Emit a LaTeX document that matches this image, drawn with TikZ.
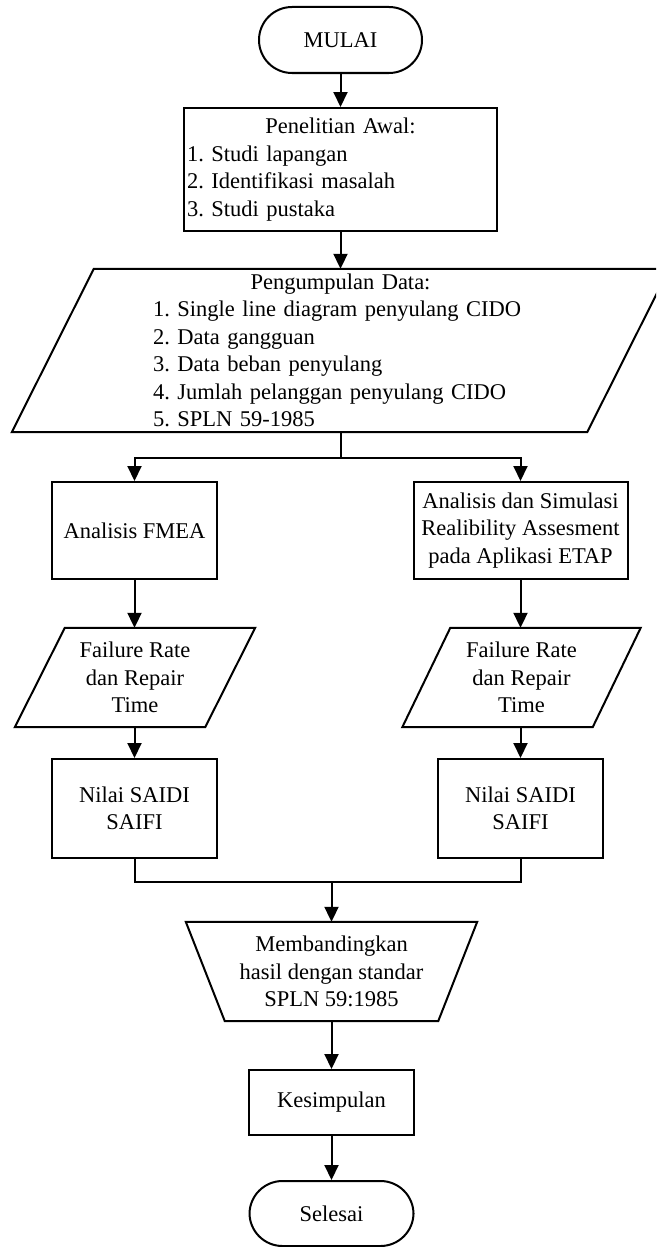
\documentclass[tikz,border=0pt]{standalone}
\usepackage{fontspec}
\setmainfont{Liberation Serif}
\usetikzlibrary{arrows.meta}
\begin{document}
\frenchspacing
\begin{tikzpicture}[x=1pt,y=-1pt,
  every node/.style={font=\fontsize{22.5}{27.5}\selectfont, inner sep=0pt},
  ln/.style={line width=2pt},
  arr/.style={ln,-{Triangle[length=15pt,width=14pt]}},
  term/.style={draw,ln,rounded corners=33pt,minimum width=163pt,minimum height=66pt},
  box/.style={draw,ln,align=center},
  io/.style={align=center}]
\useasboundingbox (0,0) rectangle (656,1247);
\clip (0,0) rectangle (656,1247);

% nodes
\node[term] (start) at (340.5,40) {MULAI};
\node[box,minimum width=313pt,minimum height=123pt,text width=307pt,align=left] (awal) at (340.5,169.5)
  {\makebox[307pt][c]{Penelitian Awal:}\\1. Studi lapangan\\2. Identifikasi masalah\\3. Studi pustaka};
\node[io,minimum width=575pt,minimum height=163pt,text width=375pt,align=left] (data) at (340.5,350.5)
  {\makebox[375pt][c]{Pengumpulan Data:}\\1. Single line diagram penyulang CIDO\\2. Data gangguan\\3. Data beban penyulang\\4. Jumlah pelanggan penyulang CIDO\\5. SPLN 59-1985};
\draw[ln] ([xshift=41pt]data.north west) -- ([xshift=41pt]data.north east)
  -- ([xshift=-41pt]data.south east) -- ([xshift=-41pt]data.south west) -- cycle;

\node[box,minimum width=165pt,minimum height=97pt] (fmea) at (134.5,530.5) {Analisis FMEA};
\node[box,minimum width=214pt,minimum height=97pt] (etap) at (520.5,530.5)
  {Analisis dan Simulasi\\Realibility Assesment\\pada Aplikasi ETAP};

\node[io,minimum width=190pt,minimum height=99pt] (fr1) at (135,677.5) {Failure Rate\\dan Repair\\Time};
\draw[ln] ([xshift=25pt]fr1.north west) -- ([xshift=25pt]fr1.north east)
  -- ([xshift=-25pt]fr1.south east) -- ([xshift=-25pt]fr1.south west) -- cycle;
\node[io,minimum width=190pt,minimum height=99pt] (fr2) at (521.5,677.5) {Failure Rate\\dan Repair\\Time};
\draw[ln] ([xshift=24pt]fr2.north west) -- ([xshift=24pt]fr2.north east)
  -- ([xshift=-24pt]fr2.south east) -- ([xshift=-24pt]fr2.south west) -- cycle;

\node[box,minimum width=165pt,minimum height=99pt] (nilai1) at (134.5,808.5) {Nilai SAIDI\\SAIFI};
\node[box,minimum width=165pt,minimum height=99pt] (nilai2) at (520.5,808.5) {Nilai SAIDI\\SAIFI};

\node[io,minimum width=291pt,minimum height=99pt] (trap) at (331.5,971.5)
  {Membandingkan\\hasil dengan standar\\SPLN 59:1985};
\draw[ln] (trap.north west) -- (trap.north east)
  -- ([xshift=-39pt]trap.south east) -- ([xshift=39pt]trap.south west) -- cycle;

\node[box,minimum width=165pt,minimum height=65pt] (kes) at (331.5,1102.5) {Kesimpulan};
\node[term,minimum width=164pt,minimum height=65pt] (end) at (331.5,1213.5) {Selesai};

% connectors
\coordinate (split) at (340.5,458);
\coordinate (merge) at (331.5,882);
\draw[arr] (start) -- (awal);
\draw[arr] (awal.south) -- (data.north);
\draw[ln] (data.south) -- (split);
\draw[arr] (split) -| (fmea.north);
\draw[arr] (split) -| (etap.north);
\draw[arr] (fmea.south) -- (fmea.south |- fr1.north);
\draw[arr] (etap.south) -- (etap.south |- fr2.north);
\draw[arr] (fr1.south -| nilai1.north) -- (nilai1.north);
\draw[arr] (fr2.south -| nilai2.north) -- (nilai2.north);
\draw[ln] (nilai1.south) |- (merge);
\draw[ln] (nilai2.south) |- (merge);
\draw[arr] (merge) -- (trap.north);
\draw[arr] (trap.south) -- (kes.north);
\draw[arr] (kes.south) -- (end.north);
\end{tikzpicture}
\end{document}
